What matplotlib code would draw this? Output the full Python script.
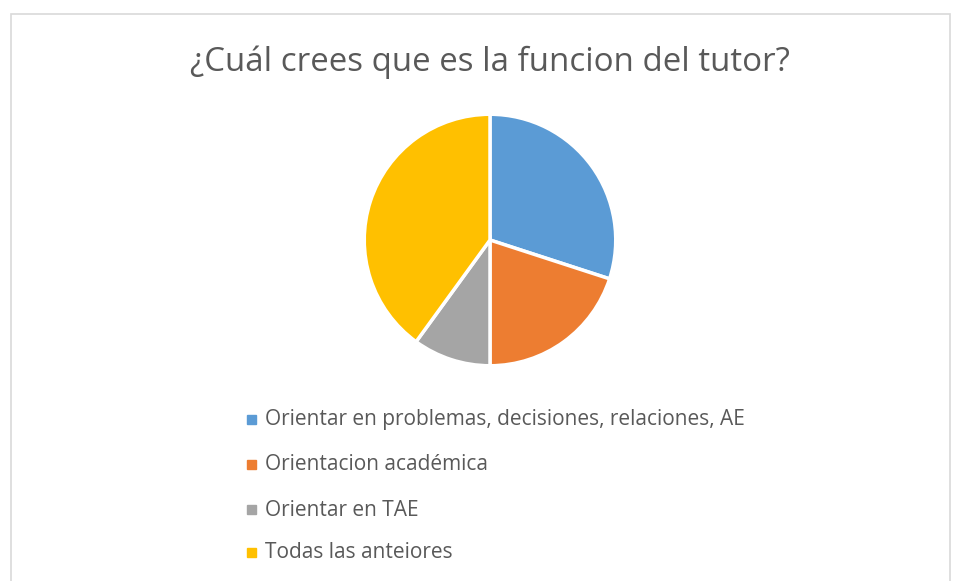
import matplotlib.pyplot as plt
from matplotlib.patches import Rectangle

# data
labels = ['Orientar en problemas, decisiones, relaciones, AE',
          'Orientacion académica',
          'Orientar en TAE',
          'Todas las anteiores']
values = [30, 20, 10, 40]
colors = ['#5B9BD5', '#ED7D31', '#A5A5A5', '#FFC000']
title = '¿Cuál crees que es la funcion del tutor?'

W, H = 956, 581
fig = plt.figure(figsize=(W / 100, H / 100), dpi=100)
plt.rcParams['font.family'] = ['Open Sans', 'DejaVu Sans']

# chart border
fig.patches.append(Rectangle((11 / W, -0.05), (950 - 11) / W, 1.05 - 14 / H,
                             transform=fig.transFigure, fill=False,
                             edgecolor='#D9D9D9', linewidth=1.2))

# pie
cx, cy, r = 490, 240, 127
ax = fig.add_axes([(cx - r) / W, (H - cy - r) / H, 2 * r / W, 2 * r / H])
wedges, _ = ax.pie(values, colors=colors, startangle=90, counterclock=False,
                   wedgeprops=dict(edgecolor='white', linewidth=2.5))
ax.set_xlim(-1.01, 1.01)
ax.set_ylim(-1.01, 1.01)
ax.set_aspect('equal')

fig.text(cx / W, 1 - 62 / H, title, ha='center', va='center',
         fontsize=23.8, color='#595959')

# legend
rows = [420, 465, 510, 553]
for lab, col, y in zip(labels, colors, rows):
    fig.patches.append(Rectangle((247 / W, 1 - (y + 4) / H), 9 / W, 9 / H,
                                 transform=fig.transFigure, color=col))
    fig.text(265 / W, 1 - y / H, lab, ha='left', va='center',
             fontsize=15, color='#595959')

fig.savefig('out.png', dpi=100)
